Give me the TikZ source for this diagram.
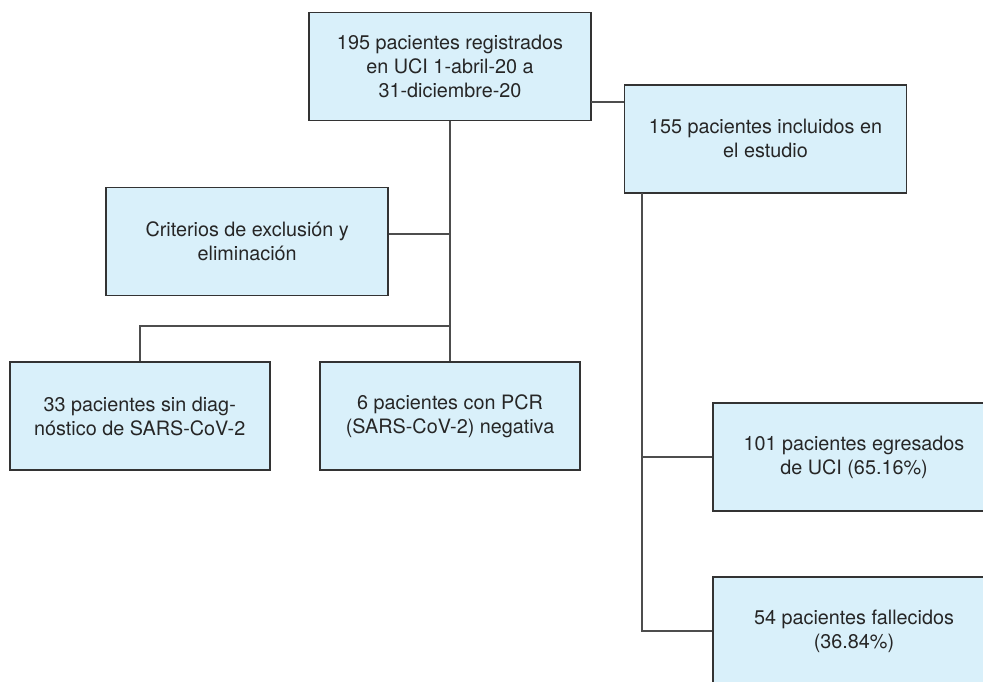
\documentclass[tikz,border=0pt]{standalone}
\usepackage{fontspec}
\setmainfont{TeX Gyre Heros}
\definecolor{boxfill}{HTML}{D9F0FA}
\definecolor{boxline}{HTML}{333333}
\definecolor{conn}{HTML}{4D4D4D}
\begin{document}
\begin{tikzpicture}[x=1pt,y=-1pt,
  box/.style={draw=boxline,fill=boxfill,line width=1.6pt,inner sep=0pt,
    minimum height=108pt,align=center,text=black!85,
    font=\fontsize{19.8}{24}\selectfont},
  wide/.style={box,minimum width=282pt},
  narrow/.style={box,minimum width=260pt},
  link/.style={draw=conn,line width=1.8pt}]
\useasboundingbox (0,0) rectangle (983,681);
\clip (0,0) rectangle (983,681);
\node[wide] (b1) at (450,66.5) {195 pacientes registrados\\en UCI 1-abril-20 a\\31-diciembre-20};
\node[wide] (b2) at (765.5,138.7) {155 pacientes incluidos en\\el estudio};
\node[wide] (b3) at (247.2,241.3) {Criterios de exclusión y\\eliminación};
\node[narrow] (b4) at (139.7,416) {33 pacientes sin diag-\\nóstico de SARS-CoV-2};
\node[narrow] (b5) at (450,416) {6 pacientes con PCR\\(SARS-CoV-2) negativa};
\node[wide] (b6) at (854,457) {101 pacientes egresados\\de UCI (65.16\%)};
\node[wide] (b7) at (854,631) {54 pacientes fallecidos\\(36.84\%)};
\coordinate (j) at (450,326);
\coordinate (t) at (642.3,192.7);
\coordinate (r) at (591,102.3);
\draw[link] (b1.south) -- (b5.north);
\draw[link] ([yshift=7pt]b3.east) -- ([yshift=7pt]b3.east -| b1.south);
\draw[link] (b4.north) |- (j);
\draw[link] (r) -- (r -| b2.west);
\draw[link] (t) |- (b6.west);
\draw[link] (t) |- (b7.west);
\end{tikzpicture}
\end{document}
